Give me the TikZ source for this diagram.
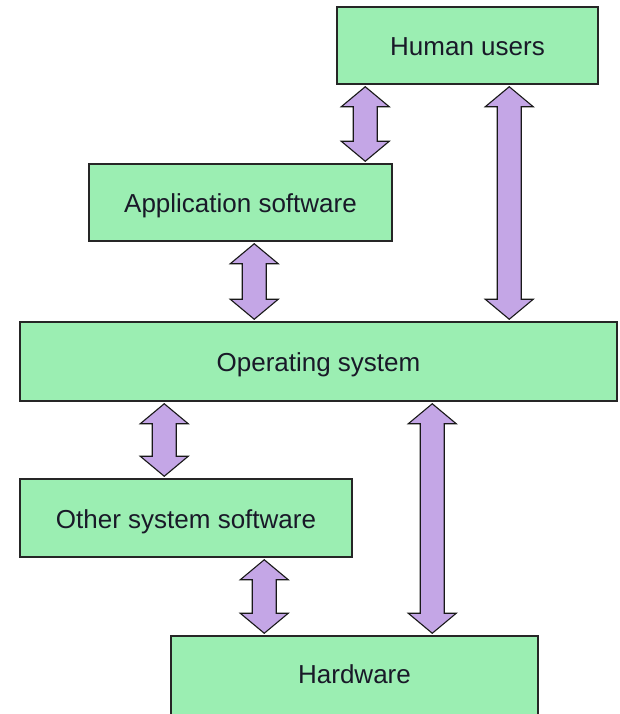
\documentclass[tikz,border=0pt]{standalone}
\usepackage{fontspec}
\setmainfont{Liberation Sans}
\usetikzlibrary{calc}

\definecolor{boxgreen}{RGB}{155,238,178}
\definecolor{linkpurple}{RGB}{196,166,230}
\definecolor{inkdark}{RGB}{25,25,40}

\tikzset{
  layer/.style={draw=black!85, line width=1.5pt, fill=boxgreen, inner sep=0pt,
    font=\fontsize{26}{30}\selectfont, text=inkdark,
    text height=24pt, text depth=3.4pt},
  link/.style={draw=black!90, line width=1.1pt, fill=linkpurple, line join=miter}
}

% Double-headed block arrow: x and top from #1, bottom from the y of #2
\newcommand\dblarrow[2]{%
  \draw[link] let \p1=#1, \p2=#2 in
    (\x1,\y1-2pt) -- (\x1+24pt,\y1-22pt) -- (\x1+12pt,\y1-22pt) --
    (\x1+12pt,\y2+22pt) -- (\x1+24pt,\y2+22pt) -- (\x1,\y2+2pt) --
    (\x1-24pt,\y2+22pt) -- (\x1-12pt,\y2+22pt) -- (\x1-12pt,\y1-22pt) --
    (\x1-24pt,\y1-22pt) -- cycle;}

\begin{document}
\begin{tikzpicture}[x=1pt, y=-1pt]
  \clip (0,0) rectangle (619,714);
  \fill[white] (0,0) rectangle (619,714);

  \node[layer, minimum width=261pt, minimum height=77pt] (hu)  at (467.5,45.5) {Human users};
  \node[layer, minimum width=303pt, minimum height=77pt] (app) at (240.5,202.5) {Application software};
  \node[layer, minimum width=597pt, minimum height=79pt] (os)  at (318.5,361.5) {Operating system};
  \node[layer, minimum width=332pt, minimum height=78pt] (oss) at (186,518) {Other system software};
  \node[layer, minimum width=367pt, minimum height=82pt,
        text height=20pt, text depth=7.4pt] (hw) at (354.5,677) {Hardware};

  \dblarrow{($(hu.south west)+(29,0)$)}{(app.north)}
  \dblarrow{($(hu.south west)+(173,0)$)}{(os.north)}
  \dblarrow{($(app.south west)+(166,0)$)}{(os.north)}
  \dblarrow{($(os.south west)+(145,0)$)}{(oss.north)}
  \dblarrow{($(os.south west)+(413,0)$)}{(hw.north)}
  \dblarrow{($(oss.south west)+(245,0)$)}{(hw.north)}
\end{tikzpicture}
\end{document}
